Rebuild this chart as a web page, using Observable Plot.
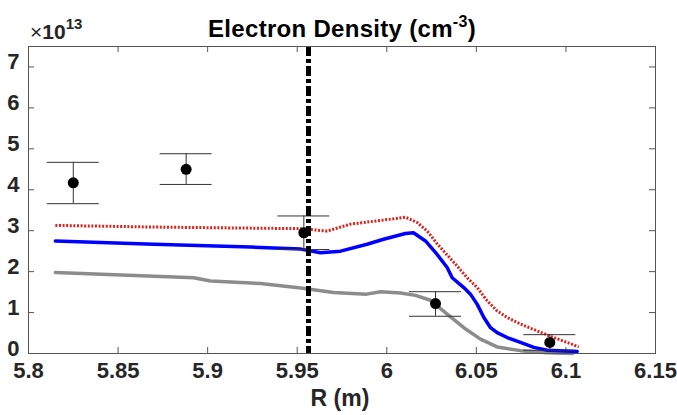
<!DOCTYPE html>
<html><head><meta charset="utf-8">
<script src="https://cdn.jsdelivr.net/npm/d3@7"></script>
<script src="https://cdn.jsdelivr.net/npm/@observablehq/plot@0.6"></script>
<style>
body{margin:0;background:#fff;}
#chart{width:677px;height:415px;overflow:hidden;}
svg{font-family:"Liberation Sans",Arial,Helvetica,sans-serif;}
</style></head><body><div id="chart"></div>
<script>
// ---- data ----
const xTicks = [5.8, 5.85, 5.9, 5.95, 6.0, 6.05, 6.1, 6.15];
const xTickLabels = ["5.8", "5.85", "5.9", "5.95", "6", "6.05", "6.1", "6.15"];
const yTicks = [0, 1, 2, 3, 4, 5, 6, 7];

const redX = [5.815, 5.868, 5.9295, 5.952, 5.9667, 5.9797, 5.9982, 6.0104, 6.017, 6.0226, 6.0281, 6.0384, 6.0449, 6.0505, 6.056, 6.0616, 6.0672, 6.0746, 6.084, 6.0932, 6.1007, 6.1072];
const redY = [3.13, 3.09, 3.06, 3.05, 2.99, 3.16, 3.26, 3.33, 3.20, 2.99, 2.68, 2.18, 1.85, 1.61, 1.29, 1.04, 0.88, 0.72, 0.55, 0.39, 0.27, 0.16];

const blueX = [5.815, 5.87, 5.924, 5.952, 5.963, 5.9742, 5.989, 5.9982, 6.0104, 6.0149, 6.0216, 6.0281, 6.0337, 6.0365, 6.043, 6.0467, 6.0505, 6.0542, 6.0579, 6.0616, 6.0672, 6.0746, 6.0821, 6.0896, 6.1063];
const blueY = [2.75, 2.67, 2.60, 2.55, 2.46, 2.50, 2.67, 2.79, 2.93, 2.95, 2.75, 2.42, 2.10, 1.85, 1.61, 1.45, 1.20, 0.88, 0.63, 0.51, 0.39, 0.27, 0.15, 0.08, 0.05];

const grayX = [5.815, 5.8923, 5.9016, 5.9295, 5.952, 5.9703, 5.9887, 5.9965, 6.0077, 6.016, 6.0244, 6.0337, 6.043, 6.0523, 6.0616, 6.0746, 6.0896, 6.1037];
const grayY = [1.98, 1.85, 1.77, 1.71, 1.60, 1.49, 1.45, 1.51, 1.48, 1.42, 1.30, 0.96, 0.63, 0.35, 0.16, 0.07, 0.02, 0.00];

const ptX = [5.825, 5.888, 5.9537, 6.0272, 6.091];
const ptY = [4.17, 4.50, 2.95, 1.22, 0.27];
const ptLo = [3.66, 4.13, 2.54, 0.91, 0.08];
const ptHi = [4.67, 4.88, 3.36, 1.51, 0.46];

const vlineX = [5.9563];

// ---- layout ----
const W = 677, H = 415, mL = 28, mR = 22, mT = 46, mB = 62;
const innerW = W - mL - mR, innerH = H - mT - mB;
const xDomain = [5.8, 6.15], yDomain = [0, 7.5];
const capHalf = 26 * (xDomain[1] - xDomain[0]) / innerW;
const tickLen = 6;

const toRows = (xs, ys) => xs.map((x, i) => ({x, y: ys[i]}));
const red = toRows(redX, redY), blue = toRows(blueX, blueY), gray = toRows(grayX, grayY);
const pts = ptX.map((x, i) => ({x, y: ptY[i], lo: ptLo[i], hi: ptHi[i]}));

const axisColor = "#555555";
const plot = Plot.plot({
  width: W, height: H,
  marginLeft: mL, marginRight: mR, marginTop: mT, marginBottom: mB,
  x: {domain: xDomain},
  y: {domain: yDomain},
  style: {fontFamily: '"Liberation Sans", Arial, sans-serif', background: "white", color: "#262626"},
  marks: [
    Plot.axisX({ticks: xTicks, tickSize: 0, tickPadding: 9, label: null, fontSize: 22, fontWeight: "bold",
      tickFormat: d => xTickLabels[xTicks.indexOf(d)], fill: "#262626"}),
    Plot.axisY({ticks: yTicks, tickSize: 0, tickPadding: 9, dy: -5, label: null, fontSize: 22, fontWeight: "bold", fill: "#262626"}),
    Plot.tickX(xTicks, {x: d => d, insetTop: innerH - tickLen, stroke: axisColor}),
    Plot.tickX(xTicks, {x: d => d, insetBottom: innerH - tickLen, stroke: axisColor}),
    Plot.tickY(yTicks, {y: d => d, insetRight: innerW - tickLen, stroke: axisColor}),
    Plot.tickY(yTicks, {y: d => d, insetLeft: innerW - tickLen, stroke: axisColor}),
    Plot.line(gray, {x: "x", y: "y", stroke: "#8c8c8c", strokeWidth: 3.5}),
    Plot.line(blue, {x: "x", y: "y", stroke: "#0000ff", strokeWidth: 3.5}),
    Plot.line(red, {x: "x", y: "y", stroke: "#e0201b", strokeWidth: 3, strokeDasharray: "2,1.6", strokeLinecap: "butt"}),
    Plot.ruleX(pts, {x: "x", y1: "lo", y2: "hi", stroke: "#333", strokeWidth: 1}),
    Plot.ruleY(pts, {y: "hi", x1: d => d.x - capHalf, x2: d => d.x + capHalf, stroke: "#333", strokeWidth: 1}),
    Plot.ruleY(pts, {y: "lo", x1: d => d.x - capHalf, x2: d => d.x + capHalf, stroke: "#333", strokeWidth: 1}),
    Plot.dot(pts, {x: "x", y: "y", r: 5.5, fill: "black"}),
    Plot.ruleX(vlineX, {x: d => d, stroke: "black", strokeWidth: 5, strokeDasharray: "10,3,4,3"}),
    Plot.frame({stroke: axisColor, strokeWidth: 1})
  ]
});
document.getElementById("chart").appendChild(plot);

// ---- texts drawn into the SVG ----
const svg = d3.select(plot);
const title = svg.append("text").attr("x", 342).attr("y", 37).attr("text-anchor", "middle")
  .attr("font-size", 24).attr("font-weight", "bold").style("letter-spacing", "0.3px").attr("fill", "#000");
title.append("tspan").text("Electron Density (cm");
title.append("tspan").attr("dy", -10).attr("font-size", 16).text("-3");
title.append("tspan").attr("dy", 10).text(")");

const mult = svg.append("text").attr("x", 30).attr("y", 39).attr("text-anchor", "start")
  .attr("fill", "#262626").attr("font-size", 21).style("font-size", "21px");
mult.append("tspan").text("\u00d7");
mult.append("tspan").attr("font-weight", "bold").text("10");
mult.append("tspan").attr("dy", -10).attr("font-size", 15).style("font-size", "15px").attr("font-weight", "bold").text("13");

svg.append("text").attr("x", 340).attr("y", 406).attr("text-anchor", "middle")
  .attr("font-size", 23).attr("font-weight", "bold").attr("fill", "#262626").text("R (m)");
</script>
</body></html>
